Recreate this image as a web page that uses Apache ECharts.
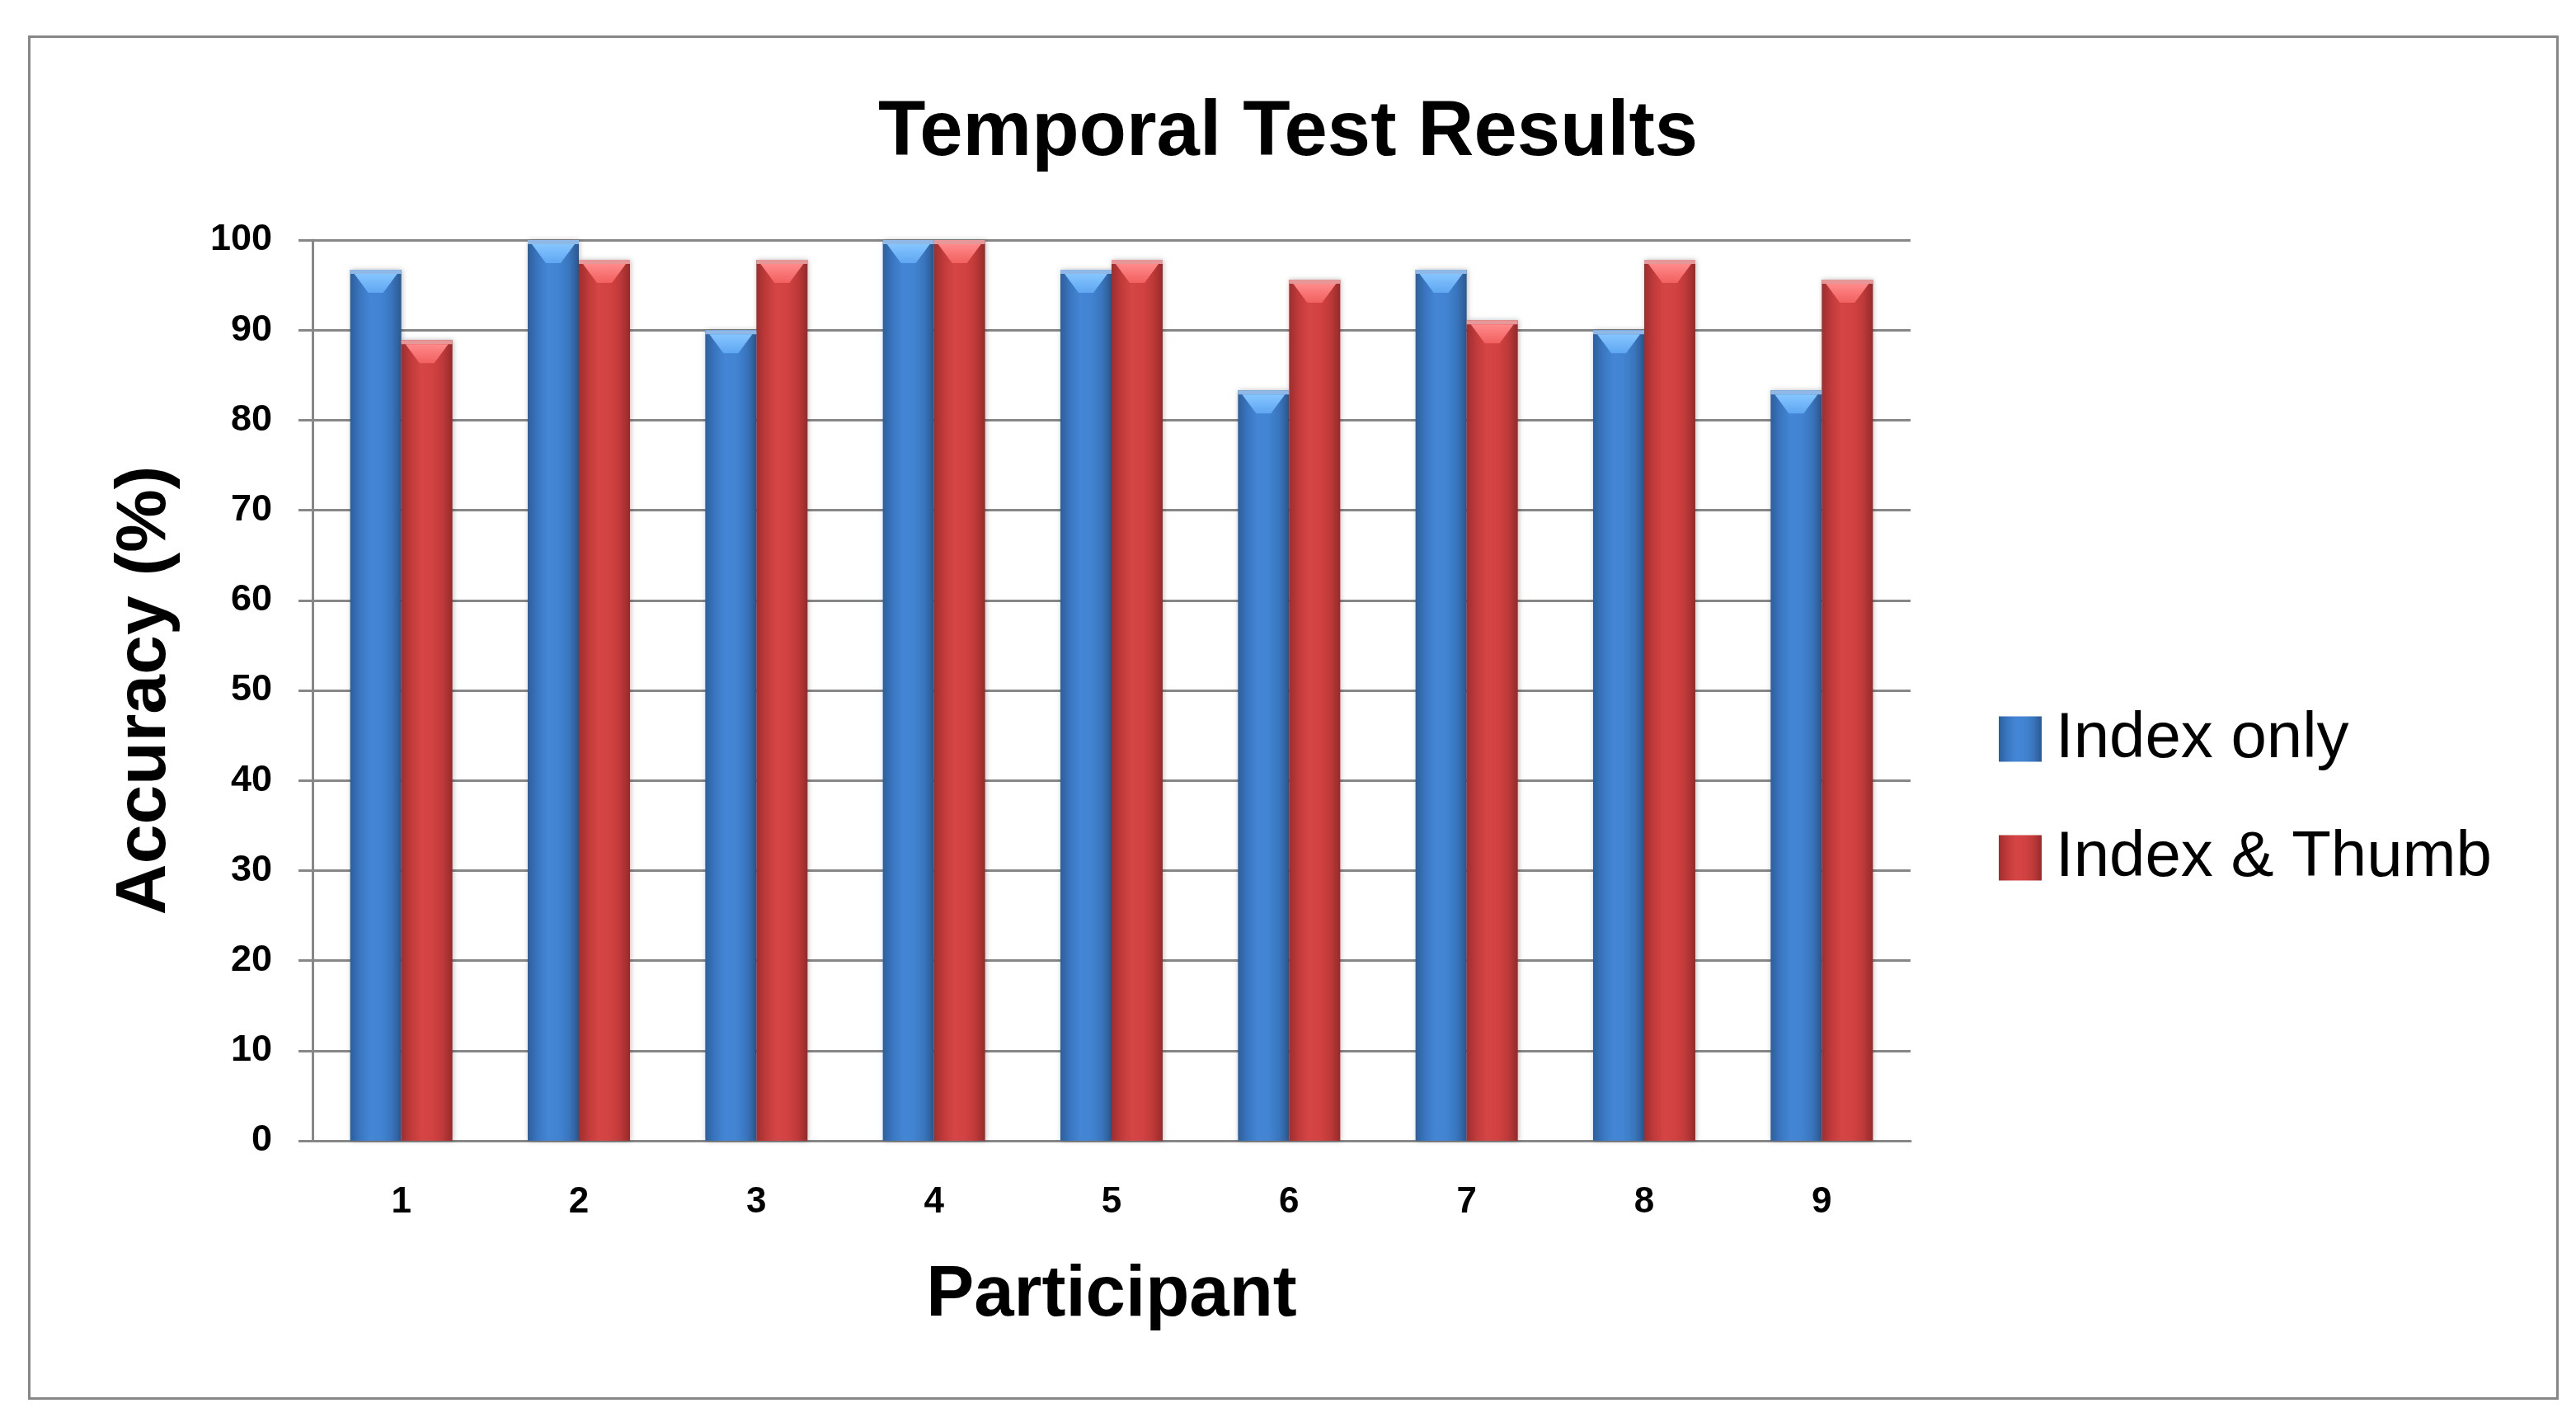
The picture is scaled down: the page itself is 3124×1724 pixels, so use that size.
<!DOCTYPE html>
<html>
<head>
<meta charset="utf-8">
<script src="https://cdn.jsdelivr.net/npm/echarts@6/dist/echarts.min.js"></script>
<style>
html,body{margin:0;padding:0;background:#fff;}
#chart{width:3124px;height:1724px;}
</style>
</head>
<body>
<div id="chart"></div>
<script>
const participants = ['1', '2', '3', '4', '5', '6', '7', '8', '9'];
const indexOnly = [96.7, 100, 90, 100, 96.7, 83.3, 96.7, 90, 83.3];
const indexThumb = [88.9, 97.8, 97.8, 100, 97.8, 95.6, 91.1, 97.8, 95.6];
const yTicks = { min: 0, max: 100, interval: 10 };

const chart = echarts.init(document.getElementById('chart'));
const BW = 62;

function grad(stops) {
  return new echarts.graphic.LinearGradient(0, 0, 1, 0, stops.map((c, i) => ({ offset: i / (stops.length - 1), color: c })));
}
const blueFill = grad(['#2d5f9c', '#3a77c2', '#4486d5', '#4284d2', '#3a76bf', '#2b5990']);
const redFill = grad(['#9e2e2e', '#c23b3b', '#d64545', '#d34242', '#c03a3a', '#962a2a']);

function capRenderer(side, band, capTop, capBot) {
  return function (params, api) {
    const c = api.coord([api.value(0), api.value(1)]);
    const x0 = side < 0 ? c[0] - BW : c[0];
    const x1 = x0 + BW;
    const top = c[1];
    const mid = x0 + BW / 2;
    return {
      type: 'group',
      children: [
        { type: 'rect', shape: { x: x0, y: top, width: BW, height: 5 }, style: { fill: band } },
        {
          type: 'polygon',
          shape: { points: [[x0 + 5, top + 5], [x1 - 5, top + 5], [mid + 9, top + 28], [mid - 9, top + 28]] },
          style: { fill: new echarts.graphic.LinearGradient(0, 0, 0, 1, [{ offset: 0, color: capTop }, { offset: 1, color: capBot }]) }
        }
      ]
    };
  };
}

const option = {
  backgroundColor: '#ffffff',
  animation: false,
  title: {
    text: 'Temporal Test Results',
    left: 'center',
    top: 110,
    textStyle: { fontFamily: 'Liberation Sans', fontWeight: 'bold', fontSize: 94, color: '#000' }
  },
  graphic: [{
    type: 'rect',
    shape: { x: 35.5, y: 44.5, width: 3066, height: 1651 },
    style: { fill: null, stroke: '#878787', lineWidth: 3 },
    z: -1
  }],
  legend: {
    data: ['Index only', 'Index & Thumb'],
    orient: 'vertical',
    left: 2419,
    top: 852,
    icon: 'rect',
    itemWidth: 52,
    itemHeight: 55,
    itemGap: 66,
    textStyle: { fontFamily: 'Liberation Sans', fontSize: 78, color: '#000', padding: [0, 0, 0, 12] }
  },
  grid: { left: 379, right: 807, top: 291, bottom: 341, containLabel: false },
  xAxis: {
    type: 'category',
    data: participants,
    name: 'Participant',
    nameLocation: 'middle',
    nameGap: 145,
    nameTextStyle: { fontFamily: 'Liberation Sans', fontWeight: 'bold', fontSize: 87, color: '#000' },
    axisLine: { show: true, lineStyle: { color: '#878787', width: 3 } },
    axisTick: { show: false },
    axisLabel: { margin: 53, fontFamily: 'Liberation Sans', fontWeight: 'bold', fontSize: 44, color: '#000' },
    splitLine: { show: false }
  },
  yAxis: {
    type: 'value',
    min: yTicks.min,
    max: yTicks.max,
    interval: yTicks.interval,
    name: 'Accuracy (%)',
    nameLocation: 'middle',
    nameGap: 160,
    nameTextStyle: { fontFamily: 'Liberation Sans', fontWeight: 'bold', fontSize: 86, color: '#000' },
    axisLine: { show: true, lineStyle: { color: '#878787', width: 3 } },
    axisTick: { show: true, length: 17, lineStyle: { color: '#878787', width: 3 } },
    axisLabel: { margin: 49, fontFamily: 'Liberation Sans', fontWeight: 'bold', fontSize: 45, color: '#000' },
    splitLine: { show: true, lineStyle: { color: '#878787', width: 3 } }
  },
  series: [
    {
      name: 'Index only', type: 'bar', data: indexOnly, barWidth: BW, barGap: '0%',
      itemStyle: { color: blueFill, shadowColor: 'rgba(0,0,0,0.25)', shadowBlur: 6, shadowOffsetX: 1 }
    },
    {
      name: 'Index & Thumb', type: 'bar', data: indexThumb, barWidth: BW, barGap: '0%',
      itemStyle: { color: redFill, shadowColor: 'rgba(0,0,0,0.25)', shadowBlur: 6, shadowOffsetX: 1 }
    },
    {
      name: 'capA', type: 'custom', z: 5, silent: true,
      data: indexOnly.map((v, i) => [i, v]),
      renderItem: capRenderer(-1, '#8fb8e6', '#86c6ff', '#5fa6f2')
    },
    {
      name: 'capB', type: 'custom', z: 5, silent: true,
      data: indexThumb.map((v, i) => [i, v]),
      renderItem: capRenderer(1, '#e69898', '#ff8a8a', '#f26060')
    }
  ]
};
chart.setOption(option);
</script>
</body>
</html>
